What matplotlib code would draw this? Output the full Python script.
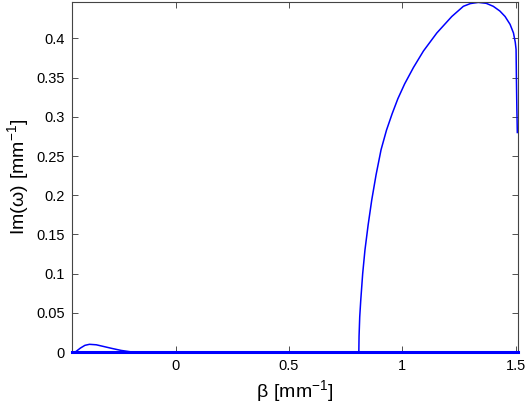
import matplotlib
matplotlib.use("Agg")
import matplotlib.pyplot as plt

plt.rcParams['font.family'] = ['Liberation Sans', 'DejaVu Sans']
plt.rcParams['mathtext.fontset'] = 'custom'
plt.rcParams['mathtext.rm'] = 'Liberation Sans'

# unstable branch (main arc)
beta_main = [0.808, 0.809, 0.812, 0.8165, 0.825, 0.835, 0.849, 0.865, 0.884, 0.906,
             0.930, 0.955, 0.980, 1.010, 1.049, 1.093, 1.152, 1.218, 1.269, 1.300,
             1.335, 1.370, 1.401, 1.430, 1.453, 1.475, 1.490, 1.498, 1.5015, 1.503,
             1.505, 1.507]
im_main = [0.0, 0.020, 0.045, 0.066, 0.100, 0.130, 0.162, 0.194, 0.226, 0.258,
           0.283, 0.304, 0.323, 0.342, 0.363, 0.384, 0.407, 0.428, 0.441, 0.4445,
           0.446, 0.4448, 0.441, 0.435, 0.428, 0.418, 0.407, 0.395, 0.386, 0.350,
           0.310, 0.280]

# small bump near the left edge
beta_bump = [-0.457, -0.44, -0.42, -0.40, -0.38, -0.35, -0.32, -0.28, -0.24, -0.20, -0.18]
im_bump = [0.0, 0.0005, 0.005, 0.0085, 0.0098, 0.0092, 0.0072, 0.0045, 0.0020, 0.0003, 0.0]

# stable branches (zero)
beta_zero = [-0.457, 1.510]
im_zero = [0.0, 0.0]

xticks = [0, 0.5, 1, 1.5]
xticklabels = ['0', '0.5', '1', '1.5']
yticks = [0, 0.05, 0.1, 0.15, 0.2, 0.25, 0.3, 0.35, 0.4]
yticklabels = ['0', '0.05', '0.1', '0.15', '0.2', '0.25', '0.3', '0.35', '0.4']

fig = plt.figure(figsize=(5.28, 4.03), dpi=100)
ax = fig.add_axes([72/528, 1-352/403, (518-72)/528, (352-2)/403])

blue = '#0000ff'
ax.plot(beta_zero, im_zero, color=blue, lw=2.2, clip_on=False, zorder=3)
ax.plot(beta_bump, im_bump, color=blue, lw=1.1)
ax.plot(beta_main, im_main, color=blue, lw=1.1, solid_joinstyle='round')

ax.set_xlim(-0.457, 1.510)
ax.set_ylim(0, 0.4465)
ax.set_xticks(xticks)
ax.set_xticklabels(xticklabels)
ax.set_yticks(yticks)
ax.set_yticklabels(yticklabels)
ax.tick_params(direction='in', length=4, width=0.6, top=True, right=True,
               labelsize=10.5, colors='#333333', labelcolor='black', pad=5)
for s in ax.spines.values():
    s.set_color('#444444')
    s.set_linewidth(0.8)

ax.set_xlabel(r'$\mathrm{\beta\ [mm^{-1}]}$', fontsize=14)
ax.set_ylabel(r'$\mathrm{Im(\omega)\ [mm^{-1}]}$', fontsize=14)

fig.savefig('out.png', dpi=100)
